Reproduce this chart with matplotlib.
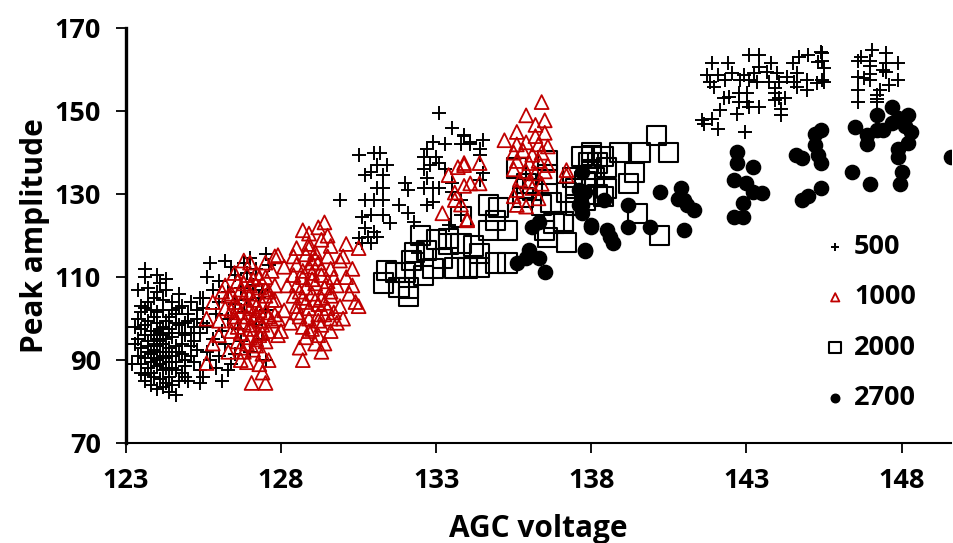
import matplotlib
matplotlib.use("Agg")
import matplotlib.pyplot as plt

plt.rcParams['font.family'] = ['Open Sans', 'DejaVu Sans']
plt.rcParams['font.weight'] = 'bold'

# ---- series 500 (plus) ----
p500_xa = [123.2,123.6,123.6,123.7,124.1,124.3,123.9,124.5,124.8,125.1,123.5,123.8,124.2,124.6,125.0,125.3,123.4,123.7,124.0,124.3,
           124.7,125.2,123.5,123.8,124.1,124.4,124.9,125.4,123.4,123.7,124.0,124.2,124.5,124.8,125.1,123.5,123.9,124.1,124.4,124.7,
           125.3,123.4,123.6,123.8,124.0,124.3,124.6,124.9,125.2,123.5,123.7,124.0,124.2,124.5,124.8,123.6,123.9,124.1,124.4,124.7,
           125.0,125.4,123.8,124.2,124.4,124.6,124.0,123.5,123.3,123.3,124.5,124.1,123.9,124.6,123.6,124.3,124.0,123.8,124.9,125.1,
           124.2,124.7,124.0,123.7,125.3,125.0,124.4,123.5,124.8,125.2,123.9,124.6,124.3,123.7,124.1,124.9,125.4,124.5,123.6,124.2,
           124.7,125.4,125.5,123.4,124.0,124.3,123.9,124.2,124.5,123.6,124.0,124.4,123.7,124.8,124.2,123.9,124.6,124.3,123.8,124.1,
           124.5,123.6,124.9,125.1,124.0,124.3]
p500_ya = [89,112,110,107.5,108.6,107,105,104,103,104,103,102,102,101,101,100,100,99.5,99,99.5,
           98.5,98,97.5,97,96.5,97.5,96,96.5,95,94.5,95,94,95.5,94,93.5,93,92.5,92,93,92,
           92.5,91,90.5,91.5,90,90.5,89.5,90,89.5,89,88,88.5,87.5,88,87,86.5,86,85.5,86,85,
           85,84.5,84,83.5,82.4,81.6,83,87,94,98,91,97.5,100.5,99,96,95,93.5,89.5,88.5,91,
           104.5,106,106.5,104,102,99.5,100.5,101.5,96.5,94.5,94,93.5,92,92,89,86,87.5,84,85,96,
           102.5,105,99,107,110.5,109.5,96,98,96.5,98.5,101.5,89.5,93.5,91.5,91,90.5,87.5,84.5,87,94.5,
           102,102.5,99,96.5,97,88]
p500_xb = [125.7,126.2,126.4,125.6,126.0,126.5,126.9,127.2,127.5,127.6,125.8,126.3,126.7,127.1,127.4,125.5,126.0,126.5,126.9,127.3,
           125.9,126.3,126.8,127.5,125.6,126.1,126.6,127.2,125.8,126.2,126.7,127.4,125.6,126.0,126.5,125.9,126.3,125.5,126.1,125.7,
           127.0,127.5,126.4,125.5,126.8,127.0]
p500_yb = [113.4,114,112.4,110,109,110.5,111,112,115.5,113,107,106.5,107.5,108,107,105,104,103.5,104.5,105,
           101,100,101.5,102,98,97,97.5,98.5,95,94,94.5,95,92,91,91.5,88,87.5,86,85,90,
           92,90,89,102.5,113.5,114.5]
p500_xc = [130.5,131.0,131.2,131.4,131.1,130.9,130.7,131.3,131.1,131.3,129.9,130.7,131.0,131.3,131.8,130.6,130.9,131.3,131.5,130.7,
           131.0,130.8,131.1,130.6,130.9,130.5]
p500_yc = [139.4,140,140,137,137,135.3,134.6,134.6,131.4,131.4,128.6,128.6,128.6,128.6,127.4,124.5,125,125,123,121.9,
           121,119.6,119.6,118.2,118.2,119.5]
p500_xd = [133.1,133.5,133.9,133.8,134.1,132.9,133.3,132.7,132.6,133.0,132.8,133.1,133.3,132.6,132.7,132.0,132.1,132.6,132.9,133.1,
           133.5,133.5,133.8,132.7,132.9,132.1,132.3,133.4,132.4,133.9,134.1,134.4,134.5,134.4,134.5,134.4,133.8]
p500_yd = [149.5,146,144.2,142.2,142,142.5,142,141,139,139,137,137.5,136,136,134,132.6,131,131.5,131.5,131.5,
           132.6,130.5,128.6,127.4,128,125.4,123.3,122.5,115.8,144,142.5,141,143,139.5,135,133.5,125]
p500_xf = [143.07,143.4,145.4,145.0,144.7,141.9,142.4,143.8,143.4,144.5,145.3,145.5,141.73,142.1,142.54,142.91,143.23,143.67,143.99,144.3,
           144.63,141.84,142.3,142.8,143.07,143.34,143.72,144.04,144.52,144.95,145.27,145.49,141.95,143.93,144.63,144.95,142.27,142.43,142.75,143.02,
           142.75,143.02,143.93,144.04,144.25,143.93,143.07,143.4,142.16,142.7,144.1,144.1,141.58,141.9,141.63,142.1,142.97,145.45,145.45,145.45]
p500_yf = [163.5,163.5,164.2,163.5,163,161.5,161.5,161.5,160.6,161.5,161.8,160.4,158.7,158.7,159.1,158.7,159.1,159.5,159.1,158.3,
           159.1,157.1,157.5,157.5,157.5,157.1,157.1,157.1,157.1,157.5,156.7,157.1,155.9,155.5,155.9,155.1,153.1,153.5,154.3,154.3,
           152.2,152.2,154.3,153.1,153.1,152.7,151,151,150.2,149.4,150.6,149,147.8,148.2,147,145.8,145,164,162,157.5]
p500_xg = [147.05,147.5,146.7,146.6,147.0,147.0,147.5,147.4,147.0,146.6,146.8,147.0,147.9,147.6,147.3,147.2,147.2,147.2,146.6,146.6,
           147.5,147.9]
p500_yg = [164.7,164,163,162,162,161,161.5,160,159,158.2,158,157.6,157.5,156.3,155,154,153,152.2,155,152.2,
           159.5,161.5]

# ---- series 1000 (triangle) ----
p1000_xa = [125.6,125.8,126.0,125.6,125.8,126.3,126.7,127.05,127.5,127.9,126.8,127.0,127.5,126.2,126.5,126.6,126.9,127.2,127.5,126.4,
            126.7,127.0,127.3,127.6,126.5,126.8,127.1,127.4,127.7,126.4,126.7,127.0,127.2,127.5,126.5,126.8,127.1,127.4,127.7,126.4,
            126.7,127.0,127.3,127.6,126.6,126.9,127.2,127.5,126.8,127.1,127.4,126.9,127.3,127.6,126.2,126.0,127.8,127.9,127.8,126.9,
            127.3,127.0,126.6,127.2,127.5,126.3,127.7,126.1,127.4,126.9,127.2,126.6,127.5,126.8,127.1,127.4,126.7,127.0,127.3,126.5,
            127.6,127.0,126.9,127.3]
p1000_ya = [89.3,94,96,100,104,92,90,84.5,84.5,115.3,114,113.5,113.5,108,111,109,110.5,111,110,106,
            107,108,107.5,106.5,104,105,104.5,103.5,104.5,102,101.5,102.5,101,101.5,99.5,99,100,98.5,99.5,97,
            96.5,97.5,96,97,94.5,94,95,94.5,92,92.5,91.5,89.5,89,90,102.5,99.5,101,96,108,103,
            99.5,106,98,93.5,107,105.5,111.5,106.5,87,100.5,103,103,105.5,108.5,109.5,96.5,93,95.5,102,100.5,
            100.5,98.5,106.5,110]
p1000_xb = [129.4,128.7,129.2,130.1,127.8,128.1,127.8,127.9,130.4,130.1,130.0,130.3,128.7,129.3,129.1,128.5,128.9,129.3,129.6,128.4,
            128.8,129.1,129.5,128.5,128.9,129.2,129.6,129.9,128.4,128.7,129.0,129.3,129.7,128.5,128.8,129.1,129.4,129.8,128.4,128.7,
            129.0,129.3,129.6,128.5,128.9,129.2,129.5,129.9,128.6,128.9,129.2,129.6,128.7,129.0,129.3,129.6,128.8,129.2,128.2,128.1,
            128.0,130.2,130.5,130.0,130.3,128.3,129.8,129.5,128.9,128.6,129.4,129.7,130.5,129.0,128.8,129.1,129.4,128.6,129.0,129.3,
            129.5,128.7,129.1,128.9,129.2,128.9,129.4,129.6,128.5]
p1000_yb = [123.2,121.3,122,118,115,112.5,104.5,100,104,110,100,112,90,92,94,117,118,119,117.5,115,
            115.5,116,115,113,112.5,113.5,112,114,110.5,110,111,110.5,110,108,107.5,108.5,107.5,108,105.5,105,
            106,105,105.5,103,102.5,103.5,102.5,103,100.5,100,101,100,98,97.5,98.5,97,95.5,96,108,102,
            97,106,103,115,108,99,99,120,120.5,93,94,101.5,117,113.5,104,104.5,103.8,106.5,109.5,112,
            109,111.5,114.5,117,99.5,97,101,106.5,101.5]
p1000_xc = [133.4,133.7,133.9,133.9,133.6,133.6,133.2,134.0,133.9,134.4,134.1,134.4,134.0,133.8]
p1000_yc = [134.6,136.5,137,132,130.4,128.6,125.4,124,137.5,137.5,132.6,132.6,123.7,127.5]
p1000_xd = [136.4,135.9,136.5,136.2,135.6,136.5,136.2,135.2,135.6,135.9,136.3,136.6,135.5,135.8,136.1,136.4,135.6,136.0,136.3,136.6,
            135.5,135.9,136.2,136.5,135.7,136.0,136.4,135.6,136.1,135.6,137.2,137.2,135.9,136.3,135.5]
p1000_yd = [152.2,149,147.8,146.7,145,144.8,144,143,142,142.5,142,141.5,140,140.5,139.5,140,138,137.5,138,137,
            136,135.5,135,135.5,133.5,133,132.5,131,131.5,127.4,135.8,134.5,127,129,129.5]

# ---- series 2000 (square) ----
p2000_x = [131.4,131.8,132.1,131.3,132.5,132.7,132.2,131.7,132.0,132.6,132.1,133.4,133.4,133.8,133.2,133.6,134.0,134.7,135.0,134.9,
           134.7,135.3,135.6,135.9,135.9,135.8,136.1,136.4,136.7,136.6,136.6,136.5,136.8,137.1,136.6,137.2,133.8,134.2,134.4,134.0,
           134.4,134.9,135.3,137.5,137.4,137.7,138.0,138.0,138.2,140.1,138.9,139.6,140.5,138.0,138.4,138.2,139.4,139.2,138.5,138.4,
           137.2,137.5,139.5,140.2,137.1,138.1,137.8,138.5,137.9,132.3,133.0,132.9,137.8]
p2000_y = [111.7,107.6,105.4,108.6,120,116.5,114,111.2,111.2,110.5,107.4,119.4,118,124.5,114.5,112.2,112.2,127.4,126.7,123.7,
           121.3,121.3,136.3,132.6,131.4,129.3,131,127.4,128,138.2,134.8,121.3,123,123.4,119.6,118.4,118.2,117.5,115.8,112.4,
           112.4,113.4,113.4,131.4,134,139,139.4,136,130,144.2,140,140,140,140,139,137.5,135.3,132.6,131.4,129.4,
           130.5,127.4,125.4,120,123.3,134,133,136.5,137.5,116,119,112,128.5]

# ---- series 2700 (dot) ----
p2700_x = [136.3,136.1,136.0,135.9,135.6,136.3,136.5,137.8,138.0,137.7,137.7,137.7,137.6,137.8,138.4,137.6,138.0,138.5,138.6,138.7,
           137.8,139.2,139.2,139.9,140.2,140.9,140.8,141.0,141.1,141.3,141.0,145.4,145.2,145.2,145.3,145.4,144.6,144.8,142.7,142.7,
           143.2,142.6,143.0,143.2,143.5,142.9,142.6,142.9,144.8,145.0,145.4,147.7,147.2,148.2,147.9,147.7,146.5,147.2,146.9,148.3,
           146.9,148.2,147.9,147.9,149.6,146.4,148.0,147.0,147.95,147.4,148.1]
p2700_y = [123.3,122,116.5,114.6,113.4,114.6,111.2,116.5,122.5,125.4,127.4,135.3,131,130.5,128.6,127.5,122,121.3,119.7,118.2,
           116.3,122,127.4,122,130.5,131.4,128.8,128.6,127.4,126.3,121.3,145.4,144.6,141.8,139.4,137.5,139.4,138.6,140.1,137.5,
           136.6,133.4,132.6,130.5,130.2,127.8,124.5,124.5,128.6,129.6,131.4,151,149,149,148.3,147.1,146.2,145.4,144.2,145,
           142.2,142.3,141,139,139,135.3,135.3,132.4,132.4,145.5,146.5]

series_labels = ['500', '1000', '2000', '2700']

x500 = p500_xa + p500_xb + p500_xc + p500_xd + p500_xf + p500_xg
y500 = p500_ya + p500_yb + p500_yc + p500_yd + p500_yf + p500_yg
x1000 = p1000_xa + p1000_xb + p1000_xc + p1000_xd
y1000 = p1000_ya + p1000_yb + p1000_yc + p1000_yd

fig = plt.figure(figsize=(9.54, 5.43), dpi=100)
ax = fig.add_axes([0.132, 0.184, 0.865, 0.764])

ax.scatter(x500, y500, marker='+', s=95, color='black', linewidths=1.4, label=series_labels[0], zorder=3)
ax.scatter(x1000, y1000, marker='^', s=100, facecolors='none', edgecolors='#C00000', linewidths=1.3, label=series_labels[1], zorder=4)
ax.scatter(p2000_x, p2000_y, marker='s', s=190, facecolors='none', edgecolors='black', linewidths=1.5, label=series_labels[2], zorder=2)
ax.scatter(p2700_x, p2700_y, marker='o', s=105, color='black', label=series_labels[3], zorder=5)

ax.set_xlim(123, 149.6)
ax.set_ylim(70, 170)
ax.set_xticks([123, 128, 133, 138, 143, 148])
ax.set_yticks([70, 90, 110, 130, 150, 170])
for s in ['top', 'right']:
    ax.spines[s].set_visible(False)
ax.spines['left'].set_linewidth(2.4)
ax.spines['bottom'].set_linewidth(1.5)
ax.tick_params(axis='both', direction='out', length=7, width=1.3, labelsize=19.5, pad=11)
for lab in ax.get_xticklabels() + ax.get_yticklabels():
    lab.set_fontweight('bold')

ax.set_xlabel('AGC voltage', fontsize=21.5, fontweight='bold', labelpad=14)
ax.set_ylabel('Peak amplitude', fontsize=21.5, fontweight='bold', labelpad=3)

leg = ax.legend(loc='upper left', bbox_to_anchor=(0.83, 0.53), frameon=False,
                prop={'size': 19.5, 'weight': 'bold'}, handletextpad=0.2, labelspacing=0.9,
                handlelength=1.0, markerscale=0.6, borderaxespad=0)

fig.savefig('out.png', dpi=100)
